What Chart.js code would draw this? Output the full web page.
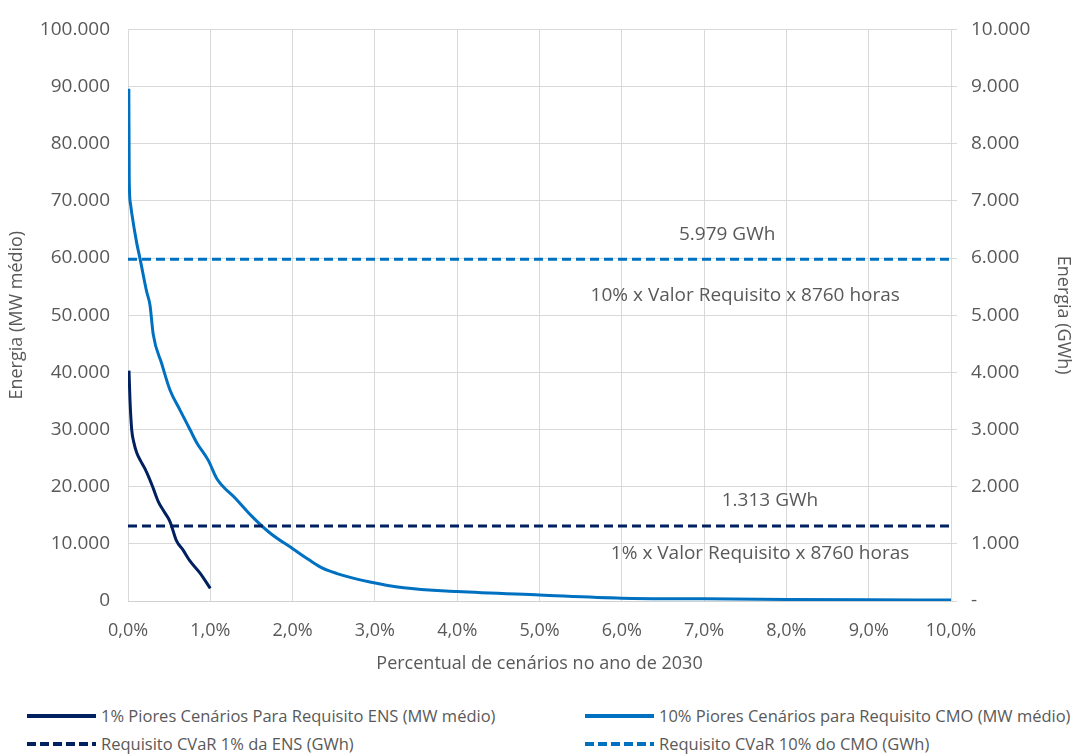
<!DOCTYPE html>
<html>
<head>
<meta charset="utf-8">
<script src="https://cdn.jsdelivr.net/npm/chart.js@4.4.1/dist/chart.umd.min.js"></script>
<style>
  html, body { margin: 0; padding: 0; background: #ffffff; }
  #wrap { position: relative; width: 1080px; height: 755px; font-family: "Open Sans", sans-serif; color: #595959; }
  #c { position: absolute; left: 0; top: 0; }
  .leg { position: absolute; display: flex; align-items: center; font-size: 16.5px; white-space: nowrap; }
  .leg svg { margin-right: 5px; }
</style>
</head>
<body>
<div id="wrap">
  <canvas id="c" width="1080" height="680"></canvas>
  <div id="legend"></div>
</div>
<script>
// Percent of scenarios (x) for the 1% worst ENS scenarios, MW médio (y)
const ensPct = [0.012, 0.024, 0.045, 0.07, 0.105, 0.15, 0.207, 0.26, 0.307, 0.368, 0.44, 0.51, 0.59, 0.67, 0.75, 0.88, 1.0];
const ensMW  = [40300, 35200, 30000, 27800, 26000, 24600, 23100, 21400, 19700, 17400, 15600, 13900, 10500, 8900, 7060, 4800, 2200];

// Percent of scenarios (x) for the 10% worst CMO scenarios, MW médio (y)
const cmoPct = [0.01, 0.015, 0.03, 0.045, 0.105, 0.146, 0.227, 0.267, 0.307, 0.41, 0.51, 0.632, 0.753, 0.835, 0.976, 1.08,
                1.307, 1.50, 1.725, 2.01, 2.2, 2.37, 2.54, 2.94, 3.35, 4.0, 5.0, 6.0, 7.0, 8.0, 9.0, 10.0];
const cmoMW  = [89600, 73700, 69500, 67900, 62700, 59900, 54100, 51800, 46600, 41500, 36900, 33400, 30000, 27700, 24600, 21400,
                17950, 14900, 11900, 9070, 7200, 5700, 4800, 3320, 2300, 1650, 1050, 500, 380, 280, 220, 180];

// CVaR requirements, GWh (right axis)
const reqEnsGWh = 1313;
const reqCmoGWh = 5979;

// Axis ticks
const xTicks = [0, 1, 2, 3, 4, 5, 6, 7, 8, 9, 10];
const xRange = [0, 10];
const yLeftRange = [0, 100000];
const yRightRange = [0, 10000];

const seriesNames = [
  '1% Piores Cenários Para Requisito ENS (MW médio)',
  '10% Piores Cenários para Requisito CMO (MW médio)',
  'Requisito CVaR 1% da ENS (GWh)',
  'Requisito CVaR 10% do CMO (GWh)'
];
const navy = '#002060';
const blue = '#0070C0';
const grey = '#595959';
const FONT = '"Open Sans", sans-serif';

const fmtThousands = v => Math.round(v).toString().replace(/\B(?=(\d{3})+(?!\d))/g, '.');

const pts = (xs, ys) => xs.map((x, i) => ({ x, y: ys[i] }));

// Notes written beside each requirement line
const notes = [
  { text: fmtThousands(reqCmoGWh) + ' GWh', x: 7.28, value: reqCmoGWh, dy: -25 },
  { text: '10% x Valor Requisito x 8760 horas', x: 7.5, value: reqCmoGWh, dy: 36 },
  { text: fmtThousands(reqEnsGWh) + ' GWh', x: 7.8, value: reqEnsGWh, dy: -25 },
  { text: '1% x Valor Requisito x 8760 horas', x: 7.68, value: reqEnsGWh, dy: 28 }
];

const notePlugin = {
  id: 'notes',
  afterDatasetsDraw(chart) {
    const { ctx, scales } = chart;
    ctx.save();
    ctx.font = '19px ' + FONT;
    ctx.fillStyle = grey;
    ctx.textAlign = 'center';
    ctx.textBaseline = 'middle';
    notes.forEach(n => {
      ctx.fillText(n.text, scales.x.getPixelForValue(n.x), scales.y2.getPixelForValue(n.value) + n.dy);
    });
    ctx.restore();
  }
};

const datasets = [
  { label: seriesNames[0], data: pts(ensPct, ensMW), borderColor: navy, borderWidth: 3, yAxisID: 'y', order: 3 },
  { label: seriesNames[1], data: pts(cmoPct, cmoMW), borderColor: blue, borderWidth: 3, yAxisID: 'y', order: 4 },
  { label: seriesNames[2], data: pts(xRange, [reqEnsGWh, reqEnsGWh]), borderColor: navy, borderWidth: 3, borderDash: [9, 5], yAxisID: 'y2', order: 1 },
  { label: seriesNames[3], data: pts(xRange, [reqCmoGWh, reqCmoGWh]), borderColor: blue, borderWidth: 3, borderDash: [9, 5], yAxisID: 'y2', order: 2 }
];
datasets.forEach(d => { d.pointRadius = 0; d.fill = false; d.cubicInterpolationMode = 'monotone'; d.borderCapStyle = 'butt'; });

new Chart(document.getElementById('c'), {
  type: 'line',
  data: { datasets },
  options: {
    responsive: false,
    animation: false,
    layout: { padding: { top: 20, left: 0, right: 0, bottom: 0 } },
    plugins: { legend: { display: false }, tooltip: { enabled: false } },
    scales: {
      x: {
        type: 'linear', min: xRange[0], max: xRange[1],
        afterBuildTicks: s => { s.ticks = xTicks.map(v => ({ value: v })); },
        afterFit: s => { s.height = 79; },
        grid: { color: '#d9d9d9', lineWidth: 1, drawTicks: false },
        border: { color: '#d0d0d0' },
        ticks: { color: grey, font: { family: FONT, size: 18 }, padding: 19, maxRotation: 0,
                 callback: v => v.toFixed(1).replace('.', ',') + '%' },
        title: { display: true, text: 'Percentual de cenários no ano de 2030', color: grey, font: { family: FONT, size: 18 }, padding: { top: 4, bottom: 5 } }
      },
      y: {
        position: 'left', min: yLeftRange[0], max: yLeftRange[1],
        afterFit: s => { s.width = 128; },
        grid: { color: '#d9d9d9', lineWidth: 1, drawTicks: false },
        border: { display: false },
        ticks: { stepSize: 10000, color: grey, font: { family: FONT, size: 19 }, padding: 18, callback: v => fmtThousands(v) },
        title: { display: true, text: 'Energia (MW médio)', color: grey, font: { family: FONT, size: 18 }, padding: { top: 6, bottom: 0 } }
      },
      y2: {
        position: 'right', min: yRightRange[0], max: yRightRange[1],
        afterFit: s => { s.width = 129; },
        grid: { drawOnChartArea: false, color: '#d9d9d9', tickLength: 6 },
        border: { color: '#d9d9d9' },
        ticks: { stepSize: 1000, color: grey, font: { family: FONT, size: 19 }, padding: 14, callback: v => v === 0 ? '-' : fmtThousands(v) },
        title: { display: true, text: 'Energia (GWh)', color: grey, font: { family: FONT, size: 18 }, padding: { top: 6, bottom: 0 } }
      }
    }
  },
  plugins: [notePlugin]
});

// Legend in two columns beneath the chart
const legendSpots = [[27, 716], [585, 716], [27, 744], [585, 744]];
const legend = document.getElementById('legend');
datasets.forEach((d, i) => {
  const item = document.createElement('div');
  item.className = 'leg';
  item.style.left = legendSpots[i][0] + 'px';
  item.style.top = (legendSpots[i][1] - 12) + 'px';
  const dash = d.borderDash ? ' stroke-dasharray="9 4"' : '';
  item.innerHTML = '<svg width="69" height="6"><line x1="0" y1="3" x2="69" y2="3" stroke="' + d.borderColor + '" stroke-width="4"' + dash + '/></svg><span>' + d.label + '</span>';
  legend.appendChild(item);
});
</script>
</body>
</html>
